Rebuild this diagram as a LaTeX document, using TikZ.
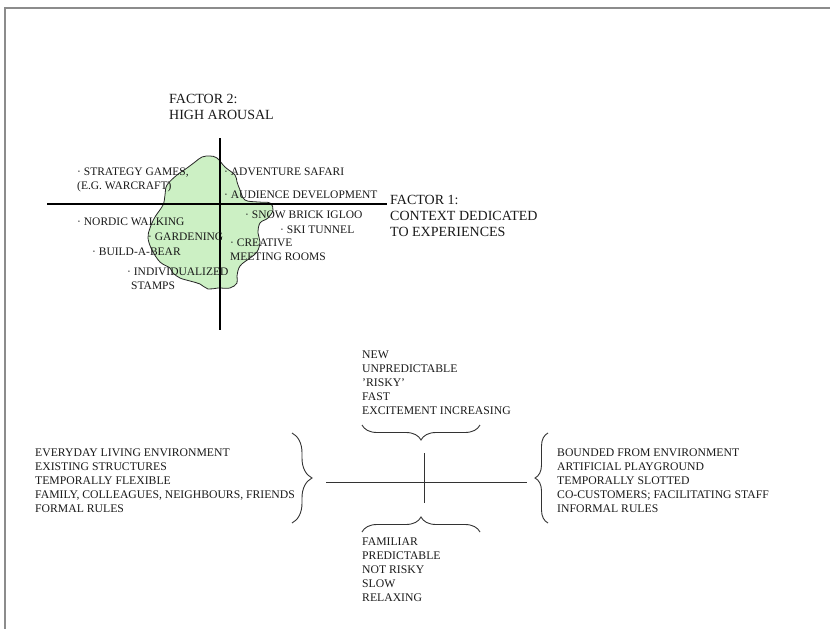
\documentclass[tikz,border=0pt]{standalone}
\usepackage{fontspec}
\setmainfont{Liberation Serif}
\usetikzlibrary{decorations.pathreplacing}
\definecolor{blobgreen}{RGB}{204,240,196}
\definecolor{framegray}{RGB}{140,140,140}
\definecolor{txt}{RGB}{25,25,25}
\begin{document}
\begin{tikzpicture}[x=1pt,y=-1pt,
  lbl/.style={inner sep=0pt, anchor=west, align=left, text=txt},
  big/.style={lbl, font=\fontsize{14}{16}\selectfont},
  small/.style={lbl, font=\fontsize{11.5}{14}\selectfont},
  list/.style={lbl, font=\fontsize{11.7}{14}\selectfont},
  axisline/.style={draw=black, line width=1.1pt},
  crossline/.style={draw=black!80, line width=1pt},
  bracedeco/.style={draw=black!80, line width=0.9pt, decorate, decoration={brace, amplitude=#1}},
  blob/.style={draw=black!85, line width=0.8pt, fill=blobgreen},
]
\useasboundingbox (0,0) rectangle (830,629);
% frame
\draw[framegray, line width=2pt] (5,629) -- (5,8) -- (830,8);

% green region
\draw[blob] plot[smooth cycle, tension=0.6] coordinates {
 (195,162) (202,157) (210,156) (217,158) (225,167) (235,175) (237,182) (240,190)
 (245,200) (258,202) (270,203) (273,210) (268,218) (260,223) (258,233) (260,242)
 (257,252) (250,258) (240,266) (237,276) (237,283) (230,288) (218,288) (208,289)
 (200,284) (190,281) (180,278) (173,273) (170,268) (160,262) (152,250) (148,238)
 (150,228) (155,217) (163,205) (165,195) (167,185) (177,175) (187,168)};

% axes of the upper diagram
\coordinate (v1) at (220,138);
\coordinate (v2) at (220,330);
\coordinate (h1) at (47,204);
\coordinate (h2) at (387,204);
\draw[axisline] (v1) -- (v2);
\draw[axisline] (h1) -- (h2);

% labels of the upper diagram
\node[big] (f2) at (169,107) {FACTOR 2:\\HIGH AROUSAL};
\node[big] (f1) at (390,216) {FACTOR 1:\\CONTEXT DEDICATED\\TO EXPERIENCES};
\node[small] (sg) at (77,180) {· STRATEGY GAMES,\\(E.G. WARCRAFT)};
\node[small] (as) at (224,172) {· ADVENTURE SAFARI};
\node[small] (ad) at (224,195) {· AUDIENCE DEVELOPMENT};
\node[small] (nw) at (77,222) {· NORDIC WALKING};
\node[small] (sb) at (245,215) {· SNOW BRICK IGLOO};
\node[small] (st) at (280,230) {· SKI TUNNEL};
\node[small] (gd) at (148,237) {· GARDENING};
\node[small] (cr) at (230,250) {· CREATIVE\\MEETING ROOMS};
\node[small] (bb) at (92,252) {· BUILD-A-BEAR};
\node[small] (iv) at (127,279) {· INDIVIDUALIZED\\\hspace*{4pt}STAMPS};

% lower diagram: cross
\coordinate (c1) at (326,482);
\coordinate (c2) at (527,482);
\coordinate (c3) at (424,453);
\coordinate (c4) at (424,503);
\draw[crossline] (c1) -- (c2);
\draw[crossline] (c3) -- (c4);

% braces
\coordinate (tb1) at (480,425);
\coordinate (tb2) at (362,425);
\coordinate (bb1) at (362,532);
\coordinate (bb2) at (480,532);
\coordinate (lb1) at (292,433);
\coordinate (lb2) at (292,523);
\coordinate (rb1) at (548,523);
\coordinate (rb2) at (548,433);
\draw[bracedeco=15] (tb1) -- (tb2);
\draw[bracedeco=15] (bb1) -- (bb2);
\draw[bracedeco=20] (lb1) -- (lb2);
\draw[bracedeco=13] (rb1) -- (rb2);

% lower texts
\node[list] (up) at (362,383) {NEW\\UNPREDICTABLE\\'RISKY'\\FAST\\EXCITEMENT INCREASING};
\node[list] (dn) at (362,569.5) {FAMILIAR\\PREDICTABLE\\NOT RISKY\\SLOW\\RELAXING};
\node[list] (lt) at (35,481) {EVERYDAY LIVING ENVIRONMENT\\EXISTING STRUCTURES\\TEMPORALLY FLEXIBLE\\FAMILY, COLLEAGUES, NEIGHBOURS, FRIENDS\\FORMAL RULES};
\node[list] (rt) at (557,481) {BOUNDED FROM ENVIRONMENT\\ARTIFICIAL PLAYGROUND\\TEMPORALLY SLOTTED\\CO-CUSTOMERS; FACILITATING STAFF\\INFORMAL RULES};
\end{tikzpicture}
\end{document}
